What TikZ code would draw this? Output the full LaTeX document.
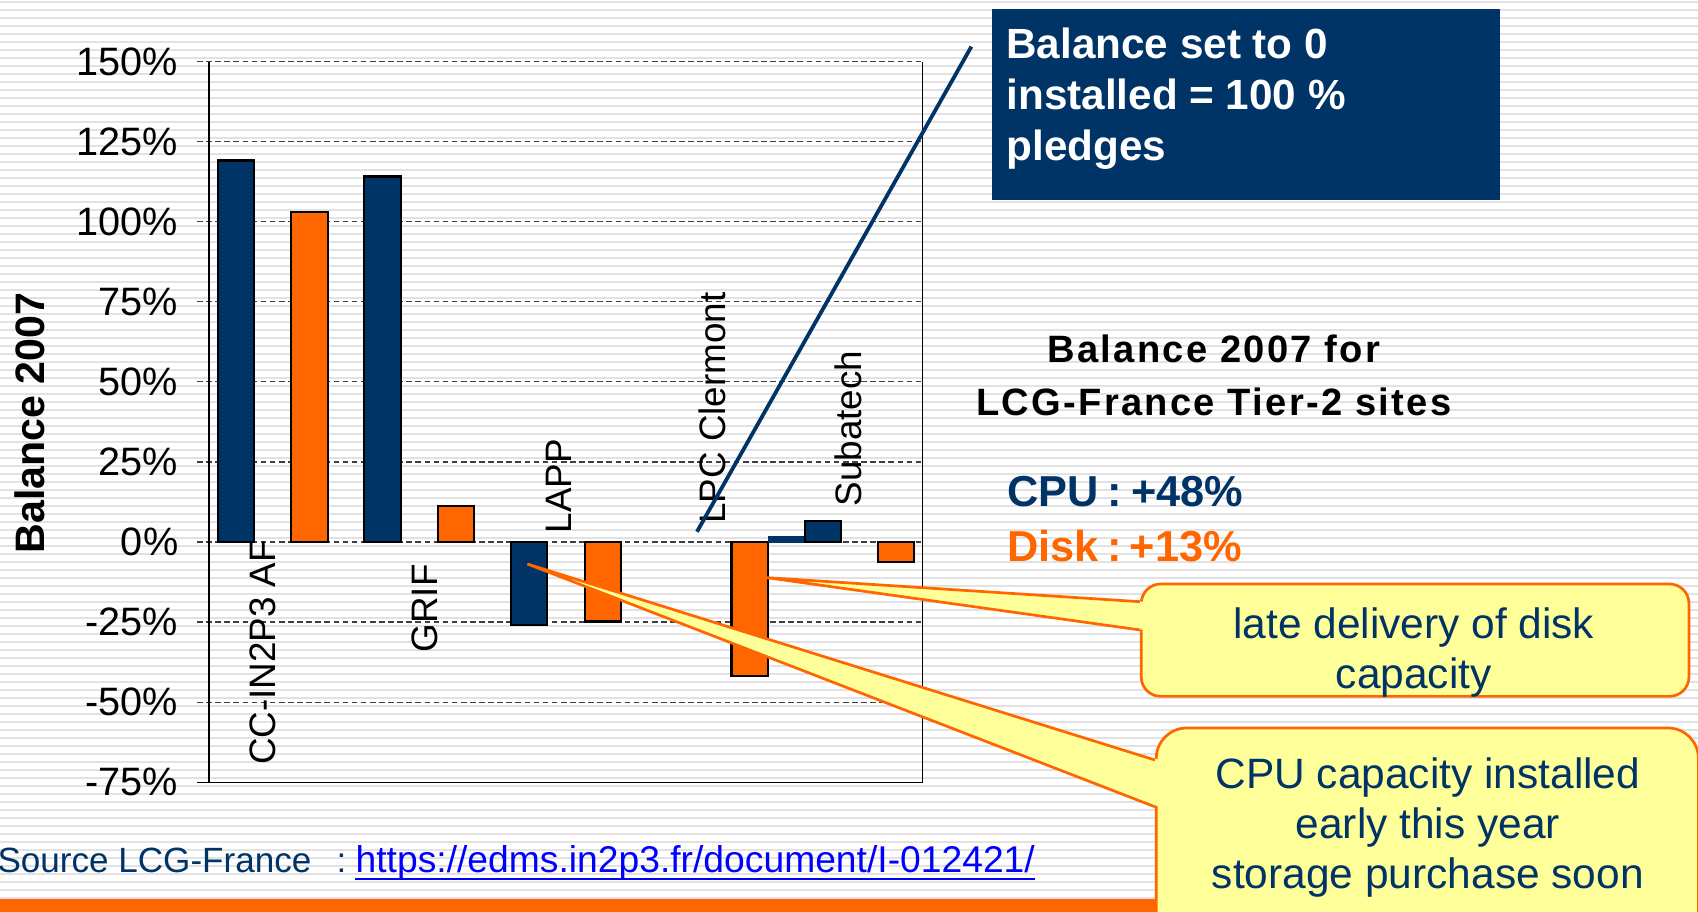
\documentclass[tikz,border=0pt]{standalone}
\usepackage{fontspec}
\setmainfont{Liberation Sans}
\newfontfamily\headfont[LetterSpace=6]{Liberation Sans}
\usetikzlibrary{calc}

\definecolor{navy}{HTML}{003366}
\definecolor{orng}{HTML}{FF6600}
\definecolor{callyellow}{HTML}{FFFF99}
\definecolor{stripegray}{HTML}{E2E2E2}
\definecolor{linkblue}{HTML}{0000FF}

\tikzset{
  stripe/.style={stripegray, line width=1.1pt},
  gridline/.style={black!75, line width=0.5pt, dash pattern=on 2.6pt off 1.6pt},
  frameline/.style={black, line width=0.5pt},
  cpubar/.style={fill=navy, draw=black, line width=0.95pt},
  diskbar/.style={fill=orng, draw=black, line width=0.95pt},
  ticklabel/.style={anchor=east, inner sep=0pt, font=\fontsize{18.3}{21}\selectfont},
  sitelabel/.style={rotate=90, inner sep=0pt, font=\fontsize{17}{20}\selectfont},
  sumtext/.style={anchor=base west, inner sep=0pt, font=\fontsize{20}{24}\selectfont\bfseries},
  callout/.style={fill=callyellow, draw=orng, line width=1.25pt},
  callouttext/.style={text=navy, align=center, inner sep=0pt, font=\fontsize{19.6}{23.2}\selectfont},
}

\begin{document}
\begin{tikzpicture}[x=0.5pt,y=0.5pt,yscale=-1,xscale=1]

\useasboundingbox (0,0) rectangle (1568,842);
\clip (0,0) rectangle (1568,842);

% striped background
\foreach \k in {0,...,113}
  \draw[stripe] (0,{1.85+7.385*\k}) -- (1568,{1.85+7.385*\k});

% grid and frame
\foreach \v in {150,125,...,-50}{
  \draw[gridline] (182,{500.5-2.956*\v}) -- (852,{500.5-2.956*\v});
  \node[ticklabel] at (165,{500.5-2.956*\v}) {\v\%};
}
\node[ticklabel] at (165,722.2) {-75\%};
\draw[frameline] (182,722.2) -- (852,722.2);
\draw[frameline] (193,57.1) -- (193,722.2);
\draw[frameline] (852,57.1) -- (852,722.2);

\node[rotate=90, inner sep=0pt, font=\fontsize{19}{22}\selectfont\bfseries] (yTitle) at (27.8,390.7) {Balance 2007};

% bars
\draw[cpubar] (201,500.5) rectangle (234.5,148.2);
\draw[diskbar] (269,500.5) rectangle (302.5,195.5);
\draw[cpubar] (336.5,500.5) rectangle (370,163);
\draw[diskbar] (404.5,500.5) rectangle (438,467.5);
\draw[cpubar] (472,500.5) rectangle (505.5,576.9);
\draw[diskbar] (540,500.5) rectangle (573.5,573.9);
\draw[diskbar] (675.5,500.5) rectangle (709,624.2);
\fill[navy] (709,501.2) rectangle (743.5,495);
\draw[cpubar] (743,500.5) rectangle (776.5,481.3);
\draw[diskbar] (810.5,500.5) rectangle (844,519);

% site labels
\node[sitelabel] (ccLabel) at (243,602.5) {CC-IN2P3 AF};
\node[sitelabel] (grifLabel) at (392,561.7) {GRIF};
\node[sitelabel] (lappLabel) at (516,449) {LAPP};
\node[sitelabel] (lpcLabel) at (657.5,376.8) {LPC Clermont};
\node[sitelabel] (subLabel) at (783,395.7) {Subatech};

% pledge box and its line
\node[fill=navy, inner sep=0pt, minimum width=234.3pt, minimum height=88pt, anchor=north west] (pledgeBox) at (916,8) {};
\node[anchor=north west, inner sep=0pt, text=white, align=left, font=\fontsize{19.5}{23.5}\selectfont\bfseries] (pledgeText) at (929,25.8) {Balance set to 0\\installed = 100 \%\\pledges};
\coordinate (lineFoot) at (643.6,491);
\coordinate (lineTop) at (897,43);
\draw[navy, line width=1.75pt] (lineFoot) -- (lineTop);

% summary
\node[anchor=north, inner sep=0pt, align=center, font=\headfont\fontsize{17.6}{24.4}\selectfont\bfseries] (heading) at (1121,308.8) {Balance 2007 for\\LCG-France Tier-2 sites};
\node[sumtext, text=navy] (cpuSum) at (929.5,467.8) {CPU\hspace{0.21em}:\hspace{0.21em}+48\%};
\node[sumtext, text=orng] (diskSum) at (930,518.6) {Disk\hspace{0.19em}:\hspace{0.19em}+13\%};

% footer
\fill[orng] (0,830.4) rectangle (1568,842);
\node[anchor=base west, inner sep=0pt, text=linkblue, font=\fontsize{17.2}{20}\selectfont] (srcLink) at (328,806) {https://edms.in2p3.fr/document/I-012421/};
\draw[linkblue, line width=0.9pt] ($(srcLink.base west)+(0,5.8)$) -- ($(srcLink.base east)+(0,5.8)$);
\node[anchor=base east, inner sep=0pt, text=navy, font=\fontsize{16.2}{19}\selectfont] (srcText) at (288,806) {Source LCG-France};
\node[anchor=base west, inner sep=0pt, text=navy, font=\fontsize{16.2}{19}\selectfont] (srcColon) at (310.5,806) {:};

% callout: disk
\node[callout, rounded corners=9pt, inner sep=0pt, minimum width=252.9pt, minimum height=51.9pt, anchor=north west] (lateBox) at (1052.6,538) {};
\coordinate (lateTip) at (708,533.4);
\fill[callyellow] (lateTip) -- ($(lateBox.north west)+(4,17.6)$) -- ($(lateBox.north west)+(4,43.7)$) -- cycle;
\draw[orng, line width=1.25pt] ($(lateBox.north west)+(0,17.6)$) -- (lateTip) -- ($(lateBox.north west)+(0,43.7)$);
\node[callouttext, anchor=north] (lateText) at (1305.5,560.9) {late delivery of disk\\capacity};

% callout: cpu
\node[callout, rounded corners=14pt, inner sep=0pt, minimum width=250.3pt, minimum height=99.5pt, anchor=north west] (cpuBox) at (1066.5,671) {};
\coordinate (cpuTip) at (487,520.8);
\fill[callyellow] (cpuTip) -- ($(cpuBox.north west)+(4,30.8)$) -- ($(cpuBox.north west)+(4,74)$) -- cycle;
\draw[orng, line width=1.25pt] ($(cpuBox.north west)+(0,30.8)$) -- (cpuTip) -- ($(cpuBox.north west)+(0,74)$);
\node[callouttext, anchor=north, font=\fontsize{19.6}{23.1}\selectfont] (cpuText) at (1318.5,699.5) {CPU capacity installed\\early this year\\storage purchase soon};

\end{tikzpicture}
\end{document}
